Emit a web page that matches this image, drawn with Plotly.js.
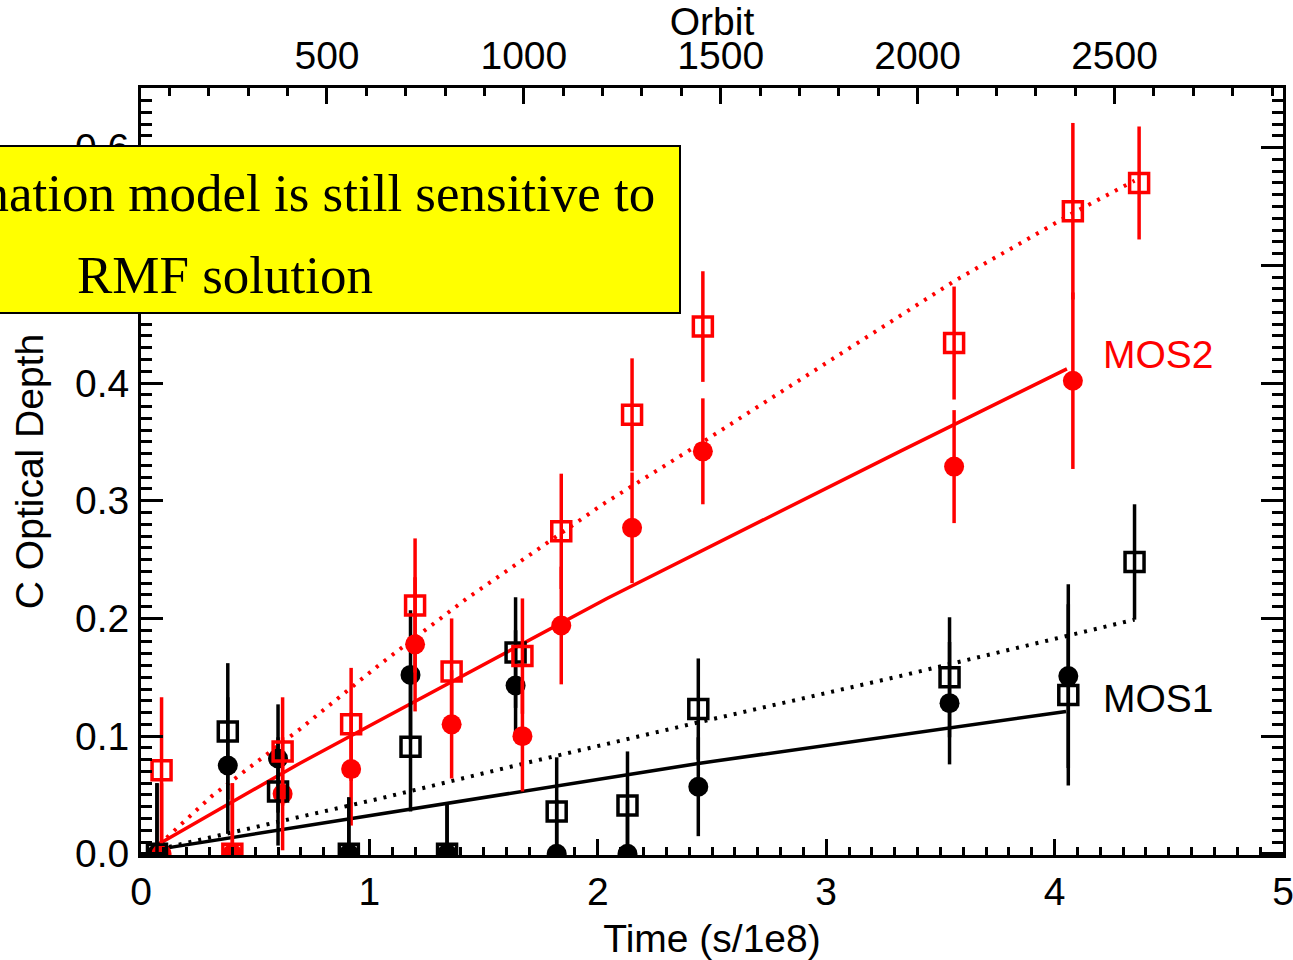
<!DOCTYPE html>
<html>
<head>
<meta charset="utf-8">
<script src="https://cdn.plot.ly/plotly-3.0.1.min.js"></script>
<style>html,body{margin:0;padding:0;background:#fff;}#chart{width:1293px;height:960px;}</style>
</head>
<body>
<div id="chart"></div>
<script>
// ---- Data ----
// Times (s/1e8) of the observations
const tMos1 = [0.07, 0.38, 0.60, 0.91, 1.18, 1.34, 1.64, 1.82, 2.13, 2.44, 3.54, 4.06, 4.35];
const tMos2 = [0.09, 0.40, 0.62, 0.92, 1.20, 1.36, 1.67, 1.84, 2.15, 2.46, 3.56, 4.08, 4.37];

// MOS1 filled circles
const mos1CircY   = [0, 0.075, 0.081, 0, 0.152, 0, 0.143, 0, 0, 0.057, 0.128, 0.151];
const mos1CircErr = [0.06, 0.058, 0.046, 0.048, 0.055, 0.042, 0.047, 0.046, 0.046, 0.042, 0.052, 0.078];
// MOS1 open squares
const mos1SqY     = [0, 0.104, 0.053, 0, 0.091, 0, 0.171, 0.036, 0.041, 0.123, 0.150, 0.135, 0.248];
const mos1SqErr   = [0.06, 0.058, 0.046, 0.048, 0.055, 0.042, 0.047, 0.046, 0.046, 0.043, 0.051, 0.077, 0.049];
// MOS2 filled circles
const mos2CircY   = [0, 0, 0.051, 0.072, 0.178, 0.110, 0.100, 0.194, 0.277, 0.342, 0.329, 0.402];
const mos2CircErr = [0.06, 0.06, 0.048, 0.048, 0.057, 0.046, 0.047, 0.050, 0.047, 0.045, 0.048, 0.075];
// MOS2 open squares
const mos2SqY     = [0.071, 0, 0.087, 0.110, 0.211, 0.155, 0.168, 0.274, 0.373, 0.448, 0.434, 0.546, 0.570];
const mos2SqErr   = [0.062, 0.06, 0.046, 0.048, 0.057, 0.045, 0.049, 0.049, 0.048, 0.047, 0.048, 0.075, 0.048];

// Model curves
const mos1FitX = [0.08, 0.696, 2.447, 4.05];
const mos1FitY = [0.004, 0.023, 0.077, 0.121];
const mos1DotX = [0.08, 0.696, 1.046, 1.703, 2.447, 3.323, 4.35];
const mos1DotY = [0.004, 0.031, 0.047, 0.078, 0.112, 0.151, 0.199];
const mos2FitX = [0.074, 0.696, 1.003, 2.04, 3.323, 4.054];
const mos2FitY = [0.008, 0.077, 0.109, 0.217, 0.342, 0.412];
const mos2DotX = [0.08, 0.31, 0.696, 1.046, 1.427, 2.022, 2.46, 3.564, 4.076, 4.35];
const mos2DotY = [0.008, 0.049, 0.106, 0.161, 0.217, 0.297, 0.350, 0.487, 0.544, 0.572];

// Axis ticks
const yTickVals = [0, 0.1, 0.2, 0.3, 0.4, 0.5, 0.6];
const yTickText = ['0.0', '0.1', '0.2', '0.3', '0.4', '0.5', '0.6'];
const xTickVals = [0, 1, 2, 3, 4, 5];
const orbitTickVals = [500, 1000, 1500, 2000, 2500];
const orbitRange = [27.7, 2927.9];

// Text
const boxLine1 = 'Contamination model is still sensitive to';
const boxLine2 = 'RMF solution';

// ---- Styling ----
const FONT = 'Liberation Sans, Arial, Helvetica, sans-serif';
const FS = 39;
const RED = '#ff0000';
const BLACK = '#000000';

function errBar(arr, color) {
  return {type: 'data', symmetric: true, array: arr, color: color, thickness: 3.5, width: 0};
}

const traces = [
  {x: mos1FitX, y: mos1FitY, mode: 'lines', line: {color: BLACK, width: 3.5}, hoverinfo: 'skip'},
  {x: mos1DotX, y: mos1DotY, mode: 'lines', line: {color: BLACK, width: 4, dash: '3px,7px'}, hoverinfo: 'skip'},
  {x: mos2FitX, y: mos2FitY, mode: 'lines', line: {color: RED, width: 3.5}, hoverinfo: 'skip'},
  {x: mos2DotX, y: mos2DotY, mode: 'lines', line: {color: RED, width: 4, dash: '3px,7px'}, hoverinfo: 'skip'},
  {x: tMos1.slice(0, mos1CircY.length), y: mos1CircY, mode: 'markers',
   marker: {symbol: 'circle', size: 20, color: BLACK}, error_y: errBar(mos1CircErr, BLACK)},
  {x: tMos2.slice(0, mos2CircY.length), y: mos2CircY, mode: 'markers',
   marker: {symbol: 'circle', size: 20, color: RED}, error_y: errBar(mos2CircErr, RED)},
  {x: tMos1, y: mos1SqY, mode: 'markers',
   marker: {symbol: 'square-open', size: 19, color: BLACK, line: {width: 3.5, color: BLACK}}, error_y: errBar(mos1SqErr, BLACK)},
  {x: tMos2, y: mos2SqY, mode: 'markers',
   marker: {symbol: 'square-open', size: 19, color: RED, line: {width: 3.5, color: RED}}, error_y: errBar(mos2SqErr, RED)},
  {x: [], y: [], xaxis: 'x2', yaxis: 'y', mode: 'markers', hoverinfo: 'skip'}
];

const L = 141, R = 1283, T = 88, B = 855;
const pw = R - L, ph = B - T;
function px2paperX(p) { return (p - L) / pw; }
function px2paperY(p) { return (B - p) / ph; }

const layout = {
  width: 1293, height: 960,
  margin: {l: L, r: 1293 - R, t: T, b: 960 - B, pad: 0},
  paper_bgcolor: '#fff', plot_bgcolor: '#fff',
  showlegend: false,
  font: {family: FONT, size: FS, color: BLACK},
  xaxis: {
    range: [0, 5], tickvals: xTickVals, ticks: 'inside', ticklen: 16, tickwidth: 3, tickcolor: BLACK,
    showline: true, linewidth: 3, linecolor: BLACK, mirror: true, showgrid: false, zeroline: false,
    ticklabelstandoff: 0, ticklabeloverflow: 'allow',
    minor: {dtick: 0.1, ticks: 'inside', ticklen: 8, tickwidth: 3, tickcolor: BLACK, showgrid: false},
    title: {text: 'Time (s/1e8)', font: {family: FONT, size: FS}, standoff: 13}
  },
  xaxis2: {
    overlaying: 'x', side: 'top', anchor: 'y', range: orbitRange, tickvals: orbitTickVals,
    ticks: 'inside', ticklen: 16, tickwidth: 3, tickcolor: BLACK,
    showline: true, linewidth: 3, linecolor: BLACK, showgrid: false, zeroline: false,
    ticklabelstandoff: 0, ticklabeloverflow: 'allow',
    minor: {dtick: 100, tick0: 0, ticks: 'inside', ticklen: 8, tickwidth: 3, tickcolor: BLACK, showgrid: false},
    title: {text: 'Orbit', font: {family: FONT, size: FS}, standoff: 3}
  },
  yaxis: {
    range: [-0.001, 0.6507], tickvals: yTickVals, ticktext: yTickText,
    ticks: 'inside', ticklen: 22, tickwidth: 3, tickcolor: BLACK,
    showline: true, linewidth: 3, linecolor: BLACK, mirror: 'ticks', showgrid: false, zeroline: false,
    ticklabelstandoff: 1, ticklabeloverflow: 'allow',
    minor: {dtick: 0.01, tick0: 0, ticks: 'inside', ticklen: 11, tickwidth: 3, tickcolor: BLACK, showgrid: false},
    title: {text: 'C Optical Depth', font: {family: FONT, size: FS}, standoff: 20}
  },
  shapes: [
    {type: 'rect', xref: 'paper', yref: 'paper', layer: 'above',
     x0: -0.3, x1: px2paperX(680), y0: px2paperY(313), y1: px2paperY(146),
     fillcolor: '#ffff00', line: {color: BLACK, width: 2}}
  ],
  annotations: [
    {xref: 'paper', yref: 'paper', x: px2paperX(657), y: px2paperY(193), xanchor: 'right', yanchor: 'middle',
     text: boxLine1, showarrow: false, font: {family: 'Liberation Serif, Times New Roman, serif', size: 53, color: BLACK}},
    {xref: 'paper', yref: 'paper', x: px2paperX(225), y: px2paperY(275), xanchor: 'center', yanchor: 'middle',
     text: boxLine2, showarrow: false, font: {family: 'Liberation Serif, Times New Roman, serif', size: 53, color: BLACK}},
    {xref: 'x', yref: 'y', x: 4.205, y: 0.424, xanchor: 'left', yanchor: 'middle', text: 'MOS2',
     showarrow: false, font: {family: FONT, size: FS, color: RED}},
    {xref: 'x', yref: 'y', x: 4.205, y: 0.132, xanchor: 'left', yanchor: 'middle', text: 'MOS1',
     showarrow: false, font: {family: FONT, size: FS, color: BLACK}}
  ]
};

Plotly.newPlot('chart', traces, layout, {displayModeBar: false, staticPlot: true});
</script>
</body>
</html>
